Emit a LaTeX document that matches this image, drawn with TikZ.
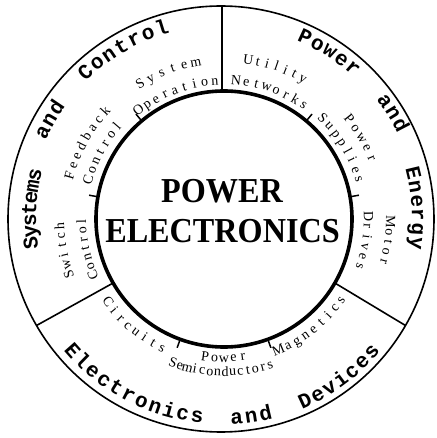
\documentclass[tikz,border=0pt]{standalone}
\usepackage{fontspec}
\setmainfont{Liberation Serif}
\newfontfamily\ringfont{Liberation Mono}
\newfontfamily\subfont{Liberation Serif}
\usetikzlibrary{calc}
\tikzset{
  ringtxt/.style={font=\ringfont\bfseries\fontsize{21}{21}\selectfont, inner sep=0pt},
  subtxt/.style={font=\subfont\fontsize{14}{14}\selectfont, inner sep=0pt},
  titletxt/.style={font=\bfseries\fontsize{35}{40}\selectfont, xscale=.92, inner sep=0pt},
  outerline/.style={line width=1.6pt},
  innerline/.style={line width=3.6pt},
  divline/.style={line width=1.6pt},
  tickline/.style={line width=1.5pt},
}
% #1 id, #2 baseline radius, #3 mid angle, #4 step per char, #5 rotation offset, #6 style, #7 chars
\newcommand\arcword[7]{%
  \foreach \ch [count=\k] in {#7} {\xdef\arcN{\k}}%
  \foreach \ch [count=\k] in {#7} {%
    \pgfmathsetmacro\arcA{#3+(#4)*(\k-1-(\arcN-1)/2)}%
    \pgfmathsetmacro\arcR{\arcA+(#5)}%
    \node[#6, anchor=base, rotate=\arcR] (#1\k) at (\arcA:#2) {\ch};
  }%
}
\begin{document}
\begin{tikzpicture}[x=1pt,y=1pt]
\useasboundingbox (-221,-219) rectangle (215,219);
% circles
\coordinate (oc) at (0,0);
\coordinate (ic) at (3,0);
\draw[outerline] (oc) circle (213);
\draw[innerline] (ic) circle (128);
% dividers
\coordinate (i90) at (1,128);
\coordinate (o90) at (1,213);
\coordinate (i210) at ($(ic)+(210:128)$);
\coordinate (o210) at (210:213);
\coordinate (i330) at ($(ic)+(330:128)$);
\coordinate (o330) at (330:213);
\draw[divline] (i90) -- (o90);
\draw[divline] (i210) -- (o210);
\draw[divline] (i330) -- (o330);
% ticks
\foreach \a in {130,170,50,10,250,290} {
  \draw[tickline] ($(ic)+(\a:127)$) -- ($(ic)+(\a:137)$);
}
% title
\node[titletxt, anchor=base] (tpower) at (1,16) {POWER};
\node[titletxt, anchor=base] (telec) at (1.5,-24) {ELECTRONICS};
% outer ring labels
\arcword{sy}{185}{177}{-3.4}{-90}{ringtxt}{S,y,s,t,e,m,s}
\arcword{ana}{192}{150}{-4.1}{-90}{ringtxt}{a,n,d}
\arcword{co}{193}{120}{-4.25}{-90}{ringtxt}{C,o,n,t,r,o,l}
\arcword{pw}{194}{57}{-4.1}{-90}{ringtxt}{P,o,w,e,r}
\arcword{anb}{196}{31.6}{-4.1}{-90}{ringtxt}{a,n,d}
\arcword{en}{191}{3.2}{-4.1}{-90}{ringtxt}{E,n,e,r,g,y}
\arcword{el}{205}{242.3}{4.16}{90}{ringtxt}{E,l,e,c,t,r,o,n,i,c,s}
\arcword{anc}{206}{278.7}{4.2}{90}{ringtxt}{a,n,d}
\arcword{de}{207}{306.7}{3.97}{90}{ringtxt}{D,e,v,i,c,e,s}
% inner sub-labels
\begin{scope}[shift={(3,0)}]
\arcword{ut}{157}{71}{-3.45}{-90}{subtxt}{U,t,i,l,i,t,y}
\arcword{ne}{135}{70}{-4.3}{-90}{subtxt}{N,e,t,w,o,r,k,s}
\arcword{ps}{156}{30.5}{-4.1}{-90}{subtxt}{P,o,w,e,r}
\arcword{su}{137}{31}{-4.2}{-90}{subtxt}{S,u,p,p,l,i,e,s}
\arcword{mo}{162}{-8}{-3.5}{-90}{subtxt}{M,o,t,o,r}
\arcword{dr}{140}{-9}{-4}{-90}{subtxt}{D,r,i,v,e,s}
\arcword{sya}{155}{111}{-4.3}{-90}{subtxt}{S,y,s,t,e,m}
\arcword{op}{134}{111}{-4.3}{-90}{subtxt}{O,p,e,r,a,t,i,o,n}
\arcword{fe}{156}{151}{-3.8}{-90}{subtxt}{F,e,e,d,b,a,c,k}
\arcword{fc}{137}{151.5}{-4.1}{-90}{subtxt}{C,o,n,t,r,o,l}
\arcword{sw}{160}{191}{-3.4}{-90}{subtxt}{S,w,i,t,c,h}
\arcword{sc}{138}{192}{-3.7}{-90}{subtxt}{C,o,n,t,r,o,l}
\arcword{ci}{147}{230}{4.1}{90}{subtxt}{C,i,r,c,u,i,t,s}
\arcword{pp}{143}{270}{3.9}{90}{subtxt}{P,o,w,e,r}
\arcword{se}{157}{269}{2.85}{90}{subtxt}{S,e,m,i,c,o,n,d,u,c,t,o,r,s}
\arcword{ma}{146}{309}{4.1}{90}{subtxt}{M,a,g,n,e,t,i,c,s}
\end{scope}
\end{tikzpicture}
\end{document}
